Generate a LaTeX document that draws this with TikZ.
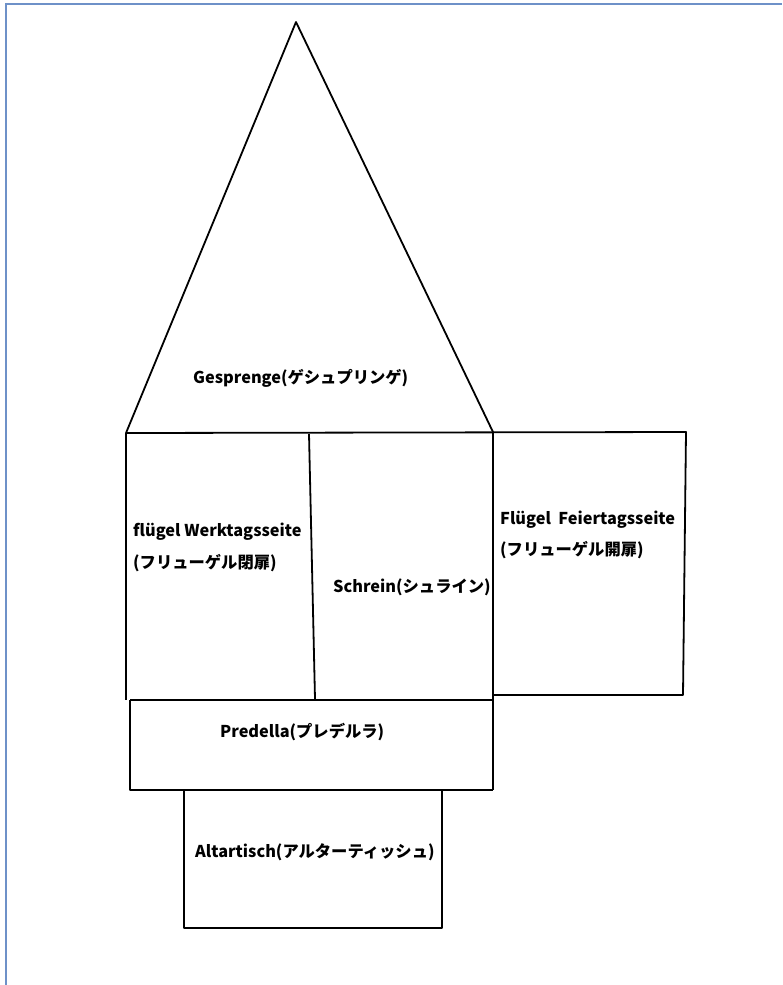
\documentclass[tikz,border=0pt]{standalone}
\usepackage{fontspec}
\setmainfont{Noto Sans CJK JP}
\definecolor{framebl}{RGB}{110,145,200}
\begin{document}
\begin{tikzpicture}[x=1pt,y=-1pt,
  edge/.style={line width=1.8pt,black,line join=round},
  lbl/.style={anchor=west,inner sep=0pt,font=\fontsize{16.3}{18}\selectfont\bfseries}]
\useasboundingbox (0,0) rectangle (782,985);
% blue frame
\draw[framebl,line width=2.2pt] (6,985) -- (6,4) -- (782,4);
% coordinates
\coordinate (apex) at (296,22);
\coordinate (bl) at (126,433);
\coordinate (br) at (493,432);
\coordinate (fr) at (686,432);
\coordinate (frb) at (683,695);
\coordinate (divt) at (309,434);
\coordinate (divb) at (315,699);
\coordinate (lpb) at (126,700);
\coordinate (pl) at (130,700);
\coordinate (pr) at (493,700);
\coordinate (pbl) at (130,790);
\coordinate (pbr) at (493,790);
\coordinate (atl) at (184,790);
\coordinate (atr) at (442,790);
\coordinate (abl) at (184,928);
\coordinate (abr) at (442,928);
% triangle
\draw[edge] (bl) -- (apex) -- (br);
% top line and right wing
\draw[edge] (bl) -- (fr) -- (frb) -- (pr |- frb);
% left panel
\draw[edge] (bl) -- (lpb);
\draw[edge] (divt) -- (divb);
% schrein right side down to predella bottom
\draw[edge] (br) -- (pbr);
% predella
\draw[edge] (pl) -- (pr);
\draw[edge] (pl) -- (pbl) -- (pbr);
% altartisch
\draw[edge] (atl) -- (abl) -- (abr) -- (atr);
% labels
\node[lbl] (gesp) at (193,378) {Gesprenge(ゲシュプリンゲ)};
\node[lbl] (werk1) at (133,532) {flügel Werktagsseite};
\node[lbl] (werk2) at (133,563) {(フリューゲル閉扉)};
\node[lbl] (feier1) at (500,520) {Flügel\ \ Feiertagsseite};
\node[lbl] (feier2) at (500,550) {(フリューゲル開扉)};
\node[lbl] (schrein) at (333,587) {Schrein(シュライン)};
\node[lbl] (pred) at (220,732) {Predella(プレデルラ)};
\node[lbl] (altar) at (195,852) {Altartisch(アルターティッシュ)};
\end{tikzpicture}
\end{document}
